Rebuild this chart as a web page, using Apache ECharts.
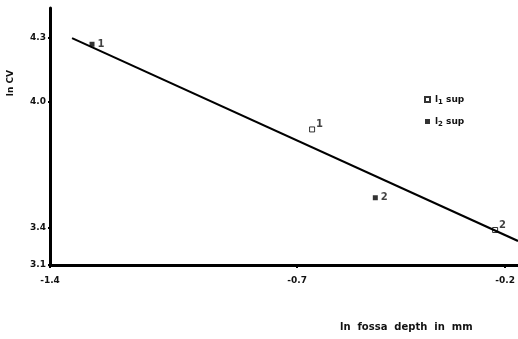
<!DOCTYPE html>
<html>
<head>
<meta charset="utf-8">
<script src="https://cdn.jsdelivr.net/npm/echarts@6/dist/echarts.min.js"></script>
<style>
html,body{margin:0;padding:0;background:#fff;}
#main{width:518px;height:339px;}
</style>
</head>
<body>
<div id="main"></div>
<script>
// broken axes: first tick sits at the origin but is labelled with the nominal value
var xTickPos = [-1.294, -0.7, -0.2];
var xTickLabels = ['-1.4', '-0.7', '-0.2'];
var yTickPos = [3.224, 3.4, 4.0, 4.3];
var yTickLabels = ['3.1', '3.4', '4.0', '4.3'];

var l1Data = [[-0.664, 3.867], [-0.224, 3.39]];
var l1Labels = ['1', '2'];
var l2Data = [[-1.193, 4.271], [-0.512, 3.543]];
var l2Labels = ['1', '2'];
var fitX = [-1.241, -0.169];
var fitY = [4.30, 3.338];

function tickLabel(pos, labels, v){
    var best = 0;
    for(var i=0;i<pos.length;i++){
        if(Math.abs(pos[i]-v) < Math.abs(pos[best]-v)){ best = i; }
    }
    return labels[best];
}
function withLabels(data, labels){
    var out = [];
    for(var i=0;i<data.length;i++){
        out.push({value: data[i], label: {formatter: labels[i]}});
    }
    return out;
}

var fontFam = 'DejaVu Sans';
var chart = echarts.init(document.getElementById('main'));
var option = {
    backgroundColor: '#fff',
    animation: false,
    grid: {left: 50, top: 8, right: 0, bottom: 74},
    legend: {
        left: 419, top: 90, orient: 'vertical',
        itemWidth: 5, itemHeight: 5, itemGap: 11,
        data: ['l1 sup', 'l2 sup'],
        formatter: function(name){
            return name == 'l1 sup' ? 'l{sub|1} sup' : 'l{sub|2} sup';
        },
        textStyle: {
            color: '#111', fontFamily: fontFam, fontWeight: 'bold', fontSize: 9,
            rich: {sub: {fontSize: 7, fontWeight: 'bold', fontFamily: fontFam, verticalAlign: 'bottom', padding: [6, 0, 0, 0]}}
        }
    },
    xAxis: {
        type: 'value', min: -1.294, max: -0.169,
        splitLine: {show: false},
        axisLine: {onZero: false, lineStyle: {color: '#000', width: 3}},
        axisTick: {customValues: xTickPos, length: 3, lineStyle: {color: '#000', width: 2}},
        axisLabel: {
            customValues: xTickPos, color: '#111', fontFamily: fontFam, fontWeight: 'bold', fontSize: 9, margin: 11,
            formatter: function(v){ return tickLabel(xTickPos, xTickLabels, v); }
        }
    },
    yAxis: {
        type: 'value', min: 3.224, max: 4.443,
        splitLine: {show: false},
        axisLine: {onZero: false, lineStyle: {color: '#000', width: 3}},
        axisTick: {customValues: yTickPos, length: 2, lineStyle: {color: '#000', width: 2}},
        axisLabel: {
            customValues: yTickPos, color: '#111', fontFamily: fontFam, fontWeight: 'bold', fontSize: 9, margin: 4,
            formatter: function(v){ return tickLabel(yTickPos, yTickLabels, v); }
        }
    },
    graphic: [
        {type: 'text', left: 6, top: 70, rotation: Math.PI/2,
         style: {text: 'ln CV', fill: '#111', font: 'bold 9px "DejaVu Sans"'}},
        {type: 'text', left: 340, top: 322,
         style: {text: 'ln  fossa  depth  in  mm', fill: '#111', font: 'bold 10px "DejaVu Sans"'}}
    ],
    series: [
        {
            type: 'line', name: 'fit', data: [[fitX[0], fitY[0]], [fitX[1], fitY[1]]],
            showSymbol: false, silent: true,
            lineStyle: {color: '#000', width: 2}
        },
        {
            type: 'scatter', name: 'l1 sup', data: withLabels(l1Data, l1Labels),
            symbol: 'rect', symbolSize: 5,
            itemStyle: {color: '#fff', borderColor: '#000', borderWidth: 1},
            label: {show: true, position: 'right', distance: 1, offset: [0, -5], color: '#111', fontFamily: fontFam, fontWeight: 'bold', fontSize: 10}
        },
        {
            type: 'scatter', name: 'l2 sup', data: withLabels(l2Data, l2Labels),
            symbol: 'rect', symbolSize: 5,
            itemStyle: {color: '#000'},
            label: {show: true, position: 'right', distance: 3, color: '#111', fontFamily: fontFam, fontWeight: 'bold', fontSize: 10}
        }
    ]
};
chart.setOption(option);
</script>
</body>
</html>
